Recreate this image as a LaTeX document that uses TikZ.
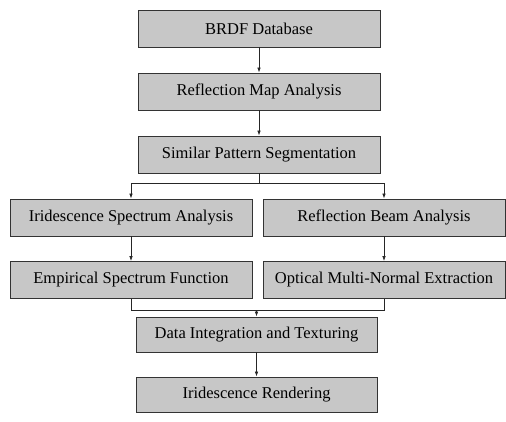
\documentclass[tikz,border=0pt]{standalone}
\usepackage{fontspec}
\setmainfont{Liberation Serif}
\usetikzlibrary{arrows.meta}
\begin{document}
\begin{tikzpicture}[x=1pt,y=-1pt,
  stepbox/.style={draw=black!80, line width=0.8pt, fill=black!22, minimum width=242pt, minimum height=37pt, inner sep=0pt, font=\fontsize{16.5}{18}\selectfont},
  conn/.style={line width=0.7pt, draw=black!85},
  arr/.style={conn, -{Latex[length=5pt,width=3.5pt]}}]
\useasboundingbox (0,0) rectangle (506,421);
\node[stepbox] (b1) at (259,28.5) {BRDF Database};
\node[stepbox] (b2) at (259,91.5) {Reflection Map Analysis};
\node[stepbox] (b3) at (259,154.5) {Similar Pattern Segmentation};
\node[stepbox] (b4) at (131,217.5) {Iridescence Spectrum Analysis};
\node[stepbox] (b5) at (384,217.5) {Reflection Beam Analysis};
\node[stepbox] (b6) at (131,280) {Empirical Spectrum Function};
\node[stepbox] (b7) at (384,280) {Optical Multi-Normal Extraction};
\node[stepbox, minimum width=241pt, minimum height=35pt] (b8) at (256.5,334.5) {Data Integration and Texturing};
\node[stepbox, minimum width=241pt, minimum height=35pt] (b9) at (256.5,394.5) {Iridescence Rendering};
\coordinate (split) at (259,183);
\coordinate (merge) at (256.5,310);
\draw[arr] (b1) -- (b2);
\draw[arr] (b2) -- (b3);
\draw[conn] (b3.south) -- (split);
\draw[conn] (b4.north |- split) -- (b5.north |- split);
\draw[arr] (b4.north |- split) -- (b4.north);
\draw[arr] (b5.north |- split) -- (b5.north);
\draw[arr] (b4) -- (b6);
\draw[arr] (b5) -- (b7);
\draw[conn] (b6.south) -- (b6.south |- merge) -- (b7.south |- merge) -- (b7.south);
\draw[arr] (merge) -- (b8.north);
\draw[arr] (b8) -- (b9);
\end{tikzpicture}
\end{document}
